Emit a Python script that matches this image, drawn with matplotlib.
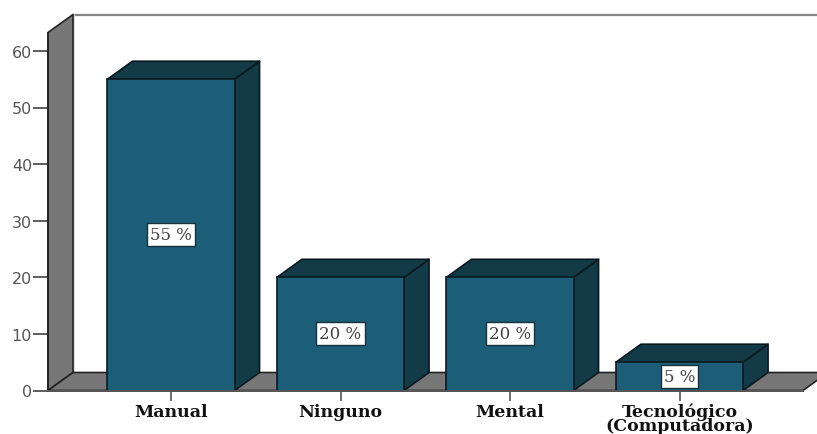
import matplotlib
matplotlib.use("Agg")
import matplotlib.pyplot as plt
from matplotlib.patches import Polygon

categories = ["Manual", "Ninguno", "Mental", "Tecnológico\n(Computadora)"]
values = [55, 20, 20, 5]
labels = ["55 %", "20 %", "20 %", "5 %"]
yticks = [0, 10, 20, 30, 40, 50, 60]

W, H = 817, 435
FRONT = "#1c5e78"
SIDE = "#133a47"
WALL = "#777777"
EDGE = "#0b1a20"

fig = plt.figure(figsize=(W / 100, H / 100), dpi=100, facecolor="white")
ax = fig.add_axes([48 / W, 1 - 391.5 / H, 755 / W, 358 / H])

ppx = 169.5
ppy = 5.66
ax.set_xlim(-123 / ppx, 632 / ppx)
ax.set_ylim(0, 358 / ppy)
dx = 25 / ppx
dy = 18 / ppy
x0, x1 = ax.get_xlim()
y1 = ax.get_ylim()[1]

def poly(pts, fc, ec=EDGE, lw=1.2, z=2):
    ax.add_patch(Polygon(pts, closed=True, facecolor=fc, edgecolor=ec, linewidth=lw,
                         zorder=z, clip_on=False, joinstyle="round"))

# back wall, side wall, floor
ax.plot([x0 + dx, x1 + dx], [y1 + dy, y1 + dy], color="#858585", lw=1.6, clip_on=False, zorder=1)
ax.plot([x0 + dx + 0.006, x0 + dx + 0.006], [dy, y1 + dy], color="#d8d8d8", lw=1.2, clip_on=False, zorder=1)
poly([(x0, 0), (x0 + dx, dy), (x0 + dx, y1 + dy), (x0, y1)], WALL, ec="#222222")
poly([(x0, 0), (x1, 0), (x1 + dx, dy), (x0 + dx, dy)], WALL, ec="#222222")

# bars
w = 0.75
for i, v in enumerate(values):
    l, r = i - w / 2, i + w / 2
    z = 3 + i
    poly([(r, 0), (r + dx, dy), (r + dx, v + dy), (r, v)], SIDE, z=z)
    poly([(l, v), (r, v), (r + dx, v + dy), (l + dx, v + dy)], SIDE, z=z)
    ax.bar(i, v, width=w, color=FRONT, edgecolor=EDGE, linewidth=1.2, zorder=z + 0.5, clip_on=False)
    ax.text(i, v / 2, labels[i], ha="center", va="center", zorder=10, fontsize=12,
            family="DejaVu Serif", color="#444444",
            bbox=dict(boxstyle="square,pad=0.18", fc="white", ec="#16323c", lw=1))

for s in ["top", "right"]:
    ax.spines[s].set_visible(False)
ax.spines["left"].set_color("#222222")
ax.spines["left"].set_linewidth(1.2)
ax.spines["left"].set_zorder(3)
ax.spines["bottom"].set_color("#555555")
ax.spines["bottom"].set_linewidth(1.4)
ax.spines["bottom"].set_zorder(20)

ax.set_yticks(yticks)
ax.tick_params(axis="y", length=11, width=1.1, color="#333333", pad=0.5,
               labelsize=11.5, labelcolor="#555555")
for t in ax.get_yticklabels():
    t.set_family("DejaVu Sans")
ax.set_xticks(range(len(categories)))
ax.set_xticklabels(categories, family="DejaVu Serif", fontweight="bold", fontsize=12.5,
                   color="#111111", linespacing=0.72)
ax.tick_params(axis="x", length=7, width=1.1, color="#444444", pad=2)

fig.savefig("out.png", dpi=100)
